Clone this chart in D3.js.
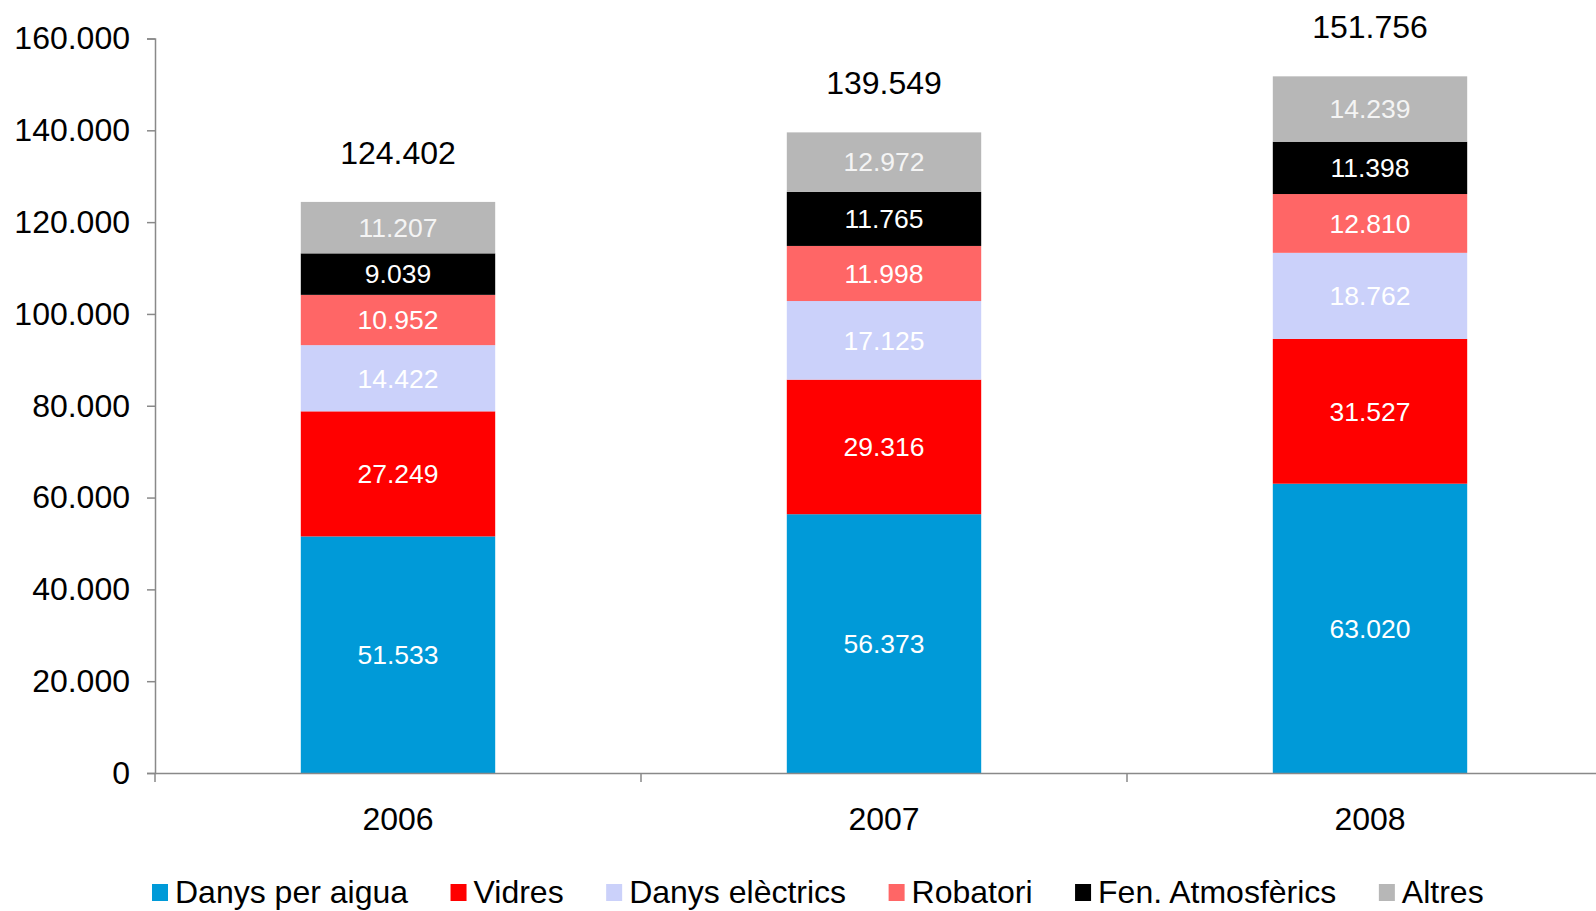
<!DOCTYPE html>
<html>
<head>
<meta charset="utf-8">
<script src="https://cdn.jsdelivr.net/npm/d3@7"></script>
<style>
  html, body { margin: 0; padding: 0; background: #fff; }
  svg { display: block; font-family: "Liberation Sans", Arial, sans-serif; }
</style>
</head>
<body>
<svg id="chart" width="1596" height="911"></svg>
<script>
const years = ["2006", "2007", "2008"];
const seriesNames = ["Danys per aigua", "Vidres", "Danys elèctrics", "Robatori", "Fen. Atmosfèrics", "Altres"];
const danysAigua = [51533, 56373, 63020];
const vidres = [27249, 29316, 31527];
const danysElectrics = [14422, 17125, 18762];
const robatori = [10952, 11998, 12810];
const fenAtmosferics = [9039, 11765, 11398];
const altres = [11207, 12972, 14239];
const totals = [124402, 139549, 151756];
const yTicks = [0, 20000, 40000, 60000, 80000, 100000, 120000, 140000, 160000];
const colors = ["#009ad8", "#ff0000", "#cbd1fa", "#ff6666", "#000000", "#b7b7b7"];
const labelColors = ["#ffffff", "#ffffff", "#ffffff", "#ffffff", "#ffffff", "#f4f4f4"];

const seriesValues = [danysAigua, vidres, danysElectrics, robatori, fenAtmosferics, altres];
const table = years.map((y, i) => {
  const row = { year: y };
  seriesNames.forEach((s, j) => row[s] = seriesValues[j][i]);
  return row;
});

const locale = d3.formatLocale({ decimal: ",", thousands: ".", grouping: [3], currency: ["", "€"] });
const fmt = locale.format(",d");

const svg = d3.select("#chart");
const x0 = 155, x1 = 1613, yBottom = 773, yTop = 38.5;
const FONT = 32;

const x = d3.scaleBand().domain(years).range([x0, x1]).padding(0);
const y = d3.scaleLinear().domain([0, 160000]).range([yBottom, yTop]);
const barW = x.bandwidth() * 0.4;

const stack = d3.stack().keys(seriesNames)(table);

// bars
const layers = svg.append("g").selectAll("g").data(stack).join("g")
  .attr("fill", (d, i) => colors[i]);
layers.selectAll("rect").data(d => d).join("rect")
  .attr("x", d => x(d.data.year) + (x.bandwidth() - barW) / 2)
  .attr("width", barW)
  .attr("y", d => y(d[1]))
  .attr("height", d => y(d[0]) - y(d[1]));

// segment labels
svg.append("g").selectAll("g").data(stack).join("g")
  .attr("fill", (d, i) => labelColors[i])
  .selectAll("text").data(d => d).join("text")
  .attr("x", d => x(d.data.year) + x.bandwidth() / 2)
  .attr("y", d => (y(d[0]) + y(d[1])) / 2)
  .attr("dy", "0.35em")
  .attr("text-anchor", "middle")
  .attr("font-size", 26.5)
  .text(d => fmt(d[1] - d[0]));

// totals
svg.append("g").selectAll("text").data(years).join("text")
  .attr("x", d => x(d) + x.bandwidth() / 2)
  .attr("y", (d, i) => y(totals[i]) - 38)
  .attr("text-anchor", "middle")
  .attr("font-size", FONT)
  .attr("fill", "#000")
  .text((d, i) => fmt(totals[i]));

// y axis
const yAxis = svg.append("g").attr("transform", `translate(${x0},0)`)
  .call(d3.axisLeft(y).tickValues(yTicks).tickSize(8).tickPadding(17).tickFormat(d => fmt(d)));
yAxis.select(".domain").attr("stroke", "#898989").attr("stroke-width", 1.5);
yAxis.selectAll(".tick line").attr("stroke", "#898989").attr("stroke-width", 1.5);
yAxis.selectAll(".tick text").attr("font-size", FONT).attr("fill", "#000")
  .attr("font-family", "Liberation Sans, Arial, sans-serif");

// x axis
const xAxis = svg.append("g").attr("transform", `translate(0,${yBottom})`)
  .call(d3.axisBottom(x).tickSize(0).tickPadding(34));
xAxis.select(".domain").attr("stroke", "#898989").attr("stroke-width", 1.5);
xAxis.selectAll(".tick text").attr("font-size", FONT).attr("fill", "#000")
  .attr("font-family", "Liberation Sans, Arial, sans-serif");
// category boundary ticks
xAxis.append("g").selectAll("line").data(years).join("line")
  .attr("x1", d => x(d)).attr("x2", d => x(d))
  .attr("y1", 0).attr("y2", 9)
  .attr("stroke", "#898989").attr("stroke-width", 1.5);

// legend
const legend = svg.append("g").attr("transform", "translate(152,0)");
let cx = 0;
seriesNames.forEach((name, i) => {
  const g = legend.append("g").attr("transform", `translate(${cx},0)`);
  g.append("rect").attr("x", 0).attr("y", 884).attr("width", 16).attr("height", 17).attr("fill", colors[i]);
  const t = g.append("text").attr("x", 23).attr("y", 903).attr("font-size", FONT).attr("fill", "#000").text(name);
  cx += 23 + t.node().getComputedTextLength() + 42.5;
});
</script>
</body>
</html>
